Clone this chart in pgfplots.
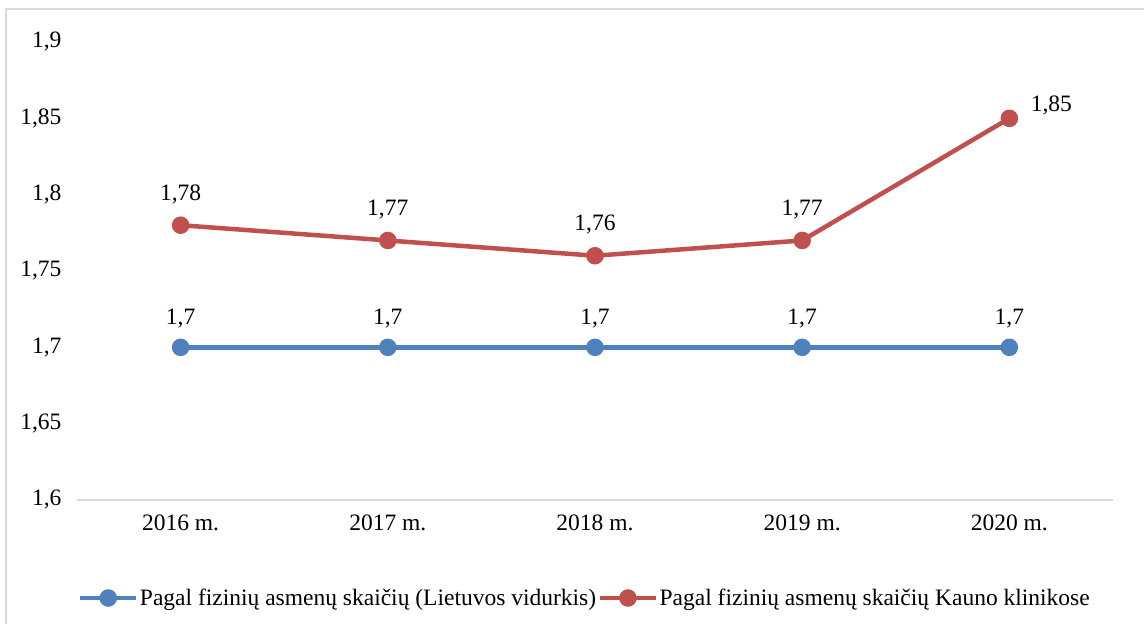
\documentclass[border=0pt]{standalone}
\usepackage{pgfplots}
\pgfplotsset{compat=1.18}
\usepackage{fontspec}
\setmainfont{Liberation Serif}
\definecolor{cblue}{HTML}{4F81BD}
\definecolor{cred}{HTML}{C0504D}
\definecolor{axgray}{HTML}{D9D9D9}
\newcommand{\ff}{\fontsize{23.5bp}{28bp}\selectfont}
\begin{document}
\begin{tikzpicture}
\useasboundingbox (0,0) rectangle (1144bp,624bp);
\draw[axgray, line width=1.5bp] (6bp,-20bp) rectangle (1170bp,615bp);
\begin{axis}[
  at={(77bp,124bp)}, anchor=south west,
  scale only axis, width=1036bp, height=458bp,
  xmin=-0.5, xmax=4.5, ymin=1.6, ymax=1.9,
  xtick={0,1,2,3,4},
  xticklabels={2016 m.,2017 m.,2018 m.,2019 m.,2020 m.},
  ytick={1.6,1.65,1.7,1.75,1.8,1.85,1.9},
  /pgf/number format/.cd, use comma, fixed, precision=2, assume math mode=true,
  /pgfplots/.cd,
  axis x line*=bottom, axis y line*=left,
  y axis line style={draw=none},
  x axis line style={axgray, line width=1.2bp, -},
  major tick length=0pt,
  tick label style={font=\ff, text=black},
  yticklabel style={xshift=-12bp},
  xticklabel style={yshift=-11bp},
  clip=false,
  legend columns=2,
  legend style={at={(0.49,-0.214)}, anchor=center, draw=none, font=\ff,
    /tikz/every even column/.append style={column sep=0bp},
    /tikz/every node/.append style={inner xsep=1.5bp}},
  legend image code/.code={\draw[mark repeat=2,mark phase=2] plot coordinates {(0bp,0bp)(28bp,0bp)(56bp,0bp)};},
]
\addplot[cblue, line width=4.5bp, mark=*, mark size=6.5bp, mark options={solid},
  nodes near coords, nodes near coords style={font=\ff, text=black, anchor=center, yshift=29bp}]
  coordinates {(0,1.7)(1,1.7)(2,1.7)(3,1.7)(4,1.7)};
\addlegendentry{Pagal fizinių asmenų skaičių (Lietuvos vidurkis)}
\addplot[cred, line width=4.5bp, mark=*, mark size=6.5bp, mark options={solid}]
  coordinates {(0,1.78)(1,1.77)(2,1.76)(3,1.77)(4,1.85)};
\addlegendentry{Pagal fizinių asmenų skaičių Kauno klinikose}
\addplot[draw=none, forget plot, nodes near coords,
  nodes near coords style={font=\ff, text=black, anchor=center, yshift=31bp}]
  coordinates {(0,1.78)(1,1.77)(2,1.76)(3,1.77)};
\addplot[draw=none, forget plot, nodes near coords,
  nodes near coords style={font=\ff, text=black, anchor=center, xshift=42bp, yshift=13bp}]
  coordinates {(4,1.85)};
\end{axis}
\end{tikzpicture}
\end{document}
